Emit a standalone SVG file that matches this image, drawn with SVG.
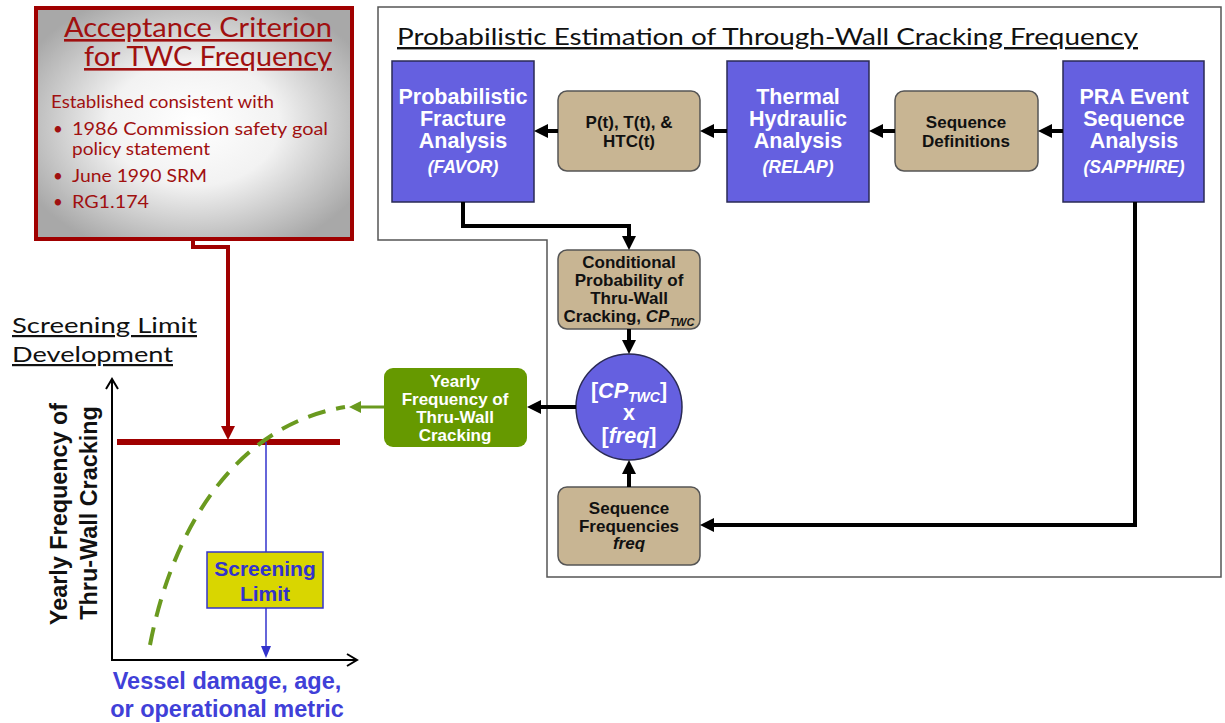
<svg xmlns="http://www.w3.org/2000/svg" width="1225" height="723" viewBox="0 0 1225 723">
<style>
.blue{fill:#6560E0;stroke:#2a2a55;stroke-width:1.5}
.tan{fill:#C8B593;stroke:#555;stroke-width:1.5}
.bt{font-family:"Liberation Sans",Arial,sans-serif;font-weight:bold;font-size:21.5px;fill:#fff;text-anchor:middle}
.bti{font-family:"Liberation Sans",Arial,sans-serif;font-weight:bold;font-style:italic;font-size:17.5px;fill:#fff;text-anchor:middle}
.tt{font-family:"Liberation Sans",Arial,sans-serif;font-weight:bold;font-size:17px;fill:#111;text-anchor:middle}
.gt{font-family:"Liberation Sans",Arial,sans-serif;font-weight:bold;font-size:17px;fill:#fff;text-anchor:middle}
.conn{fill:none;stroke:#000;stroke-width:4}
.hd{font-family:"Lato","Liberation Sans",sans-serif;text-decoration:underline}
.red{font-family:"Lato","Liberation Sans",sans-serif;fill:#a01010;font-size:17px}
.ax{font-family:"Liberation Sans",Arial,sans-serif;font-weight:bold;font-size:23.4px;fill:#111;text-anchor:middle}
.vx{font-family:"Liberation Sans",Arial,sans-serif;font-weight:bold;font-size:23.5px;fill:#4040d8;text-anchor:middle}
</style>
<defs>
<radialGradient id="gr" cx="50%" cy="50%" r="60%">
<stop offset="0" stop-color="#ffffff"/>
<stop offset="0.45" stop-color="#f2f2f2"/>
<stop offset="1" stop-color="#a8a8a8"/>
</radialGradient>
<marker id="ab" markerUnits="userSpaceOnUse" markerWidth="14" markerHeight="14" refX="2" refY="7" orient="auto"><path d="M0,0 L14,7 L0,14 z" fill="#000"/></marker>
<marker id="ag" markerUnits="userSpaceOnUse" markerWidth="12" markerHeight="12" refX="2" refY="6" orient="auto"><path d="M0,0 L12,6 L0,12 z" fill="#6a9a1f"/></marker>
<marker id="ar" markerUnits="userSpaceOnUse" markerWidth="14" markerHeight="14" refX="2" refY="7" orient="auto"><path d="M0,0 L14,7 L0,14 z" fill="#a00000"/></marker>
<marker id="abl" markerUnits="userSpaceOnUse" markerWidth="12" markerHeight="10" refX="2" refY="5" orient="auto"><path d="M0,0 L12,5 L0,10 z" fill="#3333cc"/></marker>
<marker id="ax" markerUnits="userSpaceOnUse" markerWidth="14" markerHeight="14" refX="11" refY="7" orient="auto"><path d="M1,1 L11,7 L1,13" fill="none" stroke="#000" stroke-width="2"/></marker>
</defs>

<!-- right region frame -->
<path d="M378,7 H1221 V577 H547 V240 H378 Z" fill="#fff" stroke="#555" stroke-width="1.5"/>
<text x="397" y="45" class="hd" font-size="24" fill="#111" textLength="741" lengthAdjust="spacingAndGlyphs">Probabilistic Estimation of Through-Wall Cracking Frequency</text>

<!-- acceptance box -->
<g id="acceptance">
<rect x="36" y="8" width="316" height="231" fill="url(#gr)" stroke="#a00000" stroke-width="4"/>
<text x="64" y="37" class="hd" font-size="26" fill="#a01010" textLength="268" lengthAdjust="spacingAndGlyphs">Acceptance Criterion</text>
<text x="84" y="66" class="hd" font-size="26" fill="#a01010" textLength="248" lengthAdjust="spacingAndGlyphs">for TWC Frequency</text>
<text x="51" y="108" class="red" textLength="223" lengthAdjust="spacingAndGlyphs">Established consistent with</text>
<text x="53" y="135" class="red">•</text><text x="72" y="135" class="red" textLength="256" lengthAdjust="spacingAndGlyphs">1986 Commission safety goal</text>
<text x="72" y="155" class="red" textLength="138" lengthAdjust="spacingAndGlyphs">policy statement</text>
<text x="53" y="182" class="red">•</text><text x="72" y="182" class="red" textLength="135" lengthAdjust="spacingAndGlyphs">June 1990 SRM</text>
<text x="53" y="208" class="red">•</text><text x="72" y="208" class="red" textLength="77" lengthAdjust="spacingAndGlyphs">RG1.174</text>
</g>

<g id="favor">
<rect x="392" y="61" width="142" height="141" class="blue"/>
<text x="463" y="104" class="bt">Probabilistic</text>
<text x="463" y="126" class="bt">Fracture</text>
<text x="463" y="148" class="bt">Analysis</text>
<text x="463" y="173" class="bti">(FAVOR)</text>
</g>
<g id="relap">
<rect x="727" y="61" width="142" height="141" class="blue"/>
<text x="798" y="104" class="bt">Thermal</text>
<text x="798" y="126" class="bt">Hydraulic</text>
<text x="798" y="148" class="bt">Analysis</text>
<text x="798" y="173" class="bti">(RELAP)</text>
</g>
<g id="sapphire">
<rect x="1063" y="61" width="141" height="141" class="blue"/>
<text x="1134" y="104" class="bt">PRA Event</text>
<text x="1134" y="126" class="bt">Sequence</text>
<text x="1134" y="148" class="bt">Analysis</text>
<text x="1134" y="173" class="bti">(SAPPHIRE)</text>
</g>
<g id="pth">
<rect x="558" y="91" width="142" height="80" rx="9" class="tan"/>
<text x="629" y="128" class="tt">P(t), T(t), &amp;</text>
<text x="629" y="147" class="tt">HTC(t)</text>
</g>
<g id="seqdef">
<rect x="895" y="91" width="143" height="80" rx="9" class="tan"/>
<text x="966" y="128" class="tt">Sequence</text>
<text x="966" y="147" class="tt">Definitions</text>
</g>
<g id="cp">
<rect x="558" y="250" width="142" height="79" rx="9" class="tan"/>
<text x="629" y="268" class="tt">Conditional</text>
<text x="629" y="286" class="tt">Probability of</text>
<text x="629" y="304" class="tt">Thru-Wall</text>
<text x="629" y="322" class="tt">Cracking, <tspan font-style="italic">CP</tspan><tspan font-style="italic" font-size="11" dy="4">TWC</tspan></text>
</g>
<g id="product">
<circle cx="629" cy="407" r="53" class="blue"/>
<text x="629" y="398" class="bt">[<tspan font-style="italic">CP</tspan><tspan font-style="italic" font-size="14" dy="4">TWC</tspan><tspan dy="-4">]</tspan></text>
<text x="629" y="420" class="bt">x</text>
<text x="629" y="443" class="bt">[<tspan font-style="italic">freq</tspan>]</text>
</g>
<g id="seqfreq">
<rect x="558" y="487" width="142" height="78" rx="9" class="tan"/>
<text x="629" y="514" class="tt">Sequence</text>
<text x="629" y="532" class="tt">Frequencies</text>
<text x="629" y="549" class="tt" font-style="italic">freq</text>
</g>
<g id="yearly">
<rect x="384" y="368" width="143" height="79" rx="9" fill="#669900"/>
<text x="455" y="387" class="gt">Yearly</text>
<text x="455" y="405" class="gt">Frequency of</text>
<text x="455" y="423" class="gt">Thru-Wall</text>
<text x="455" y="441" class="gt">Cracking</text>
</g>

<g id="connectors">
<path d="M558,131 H546" class="conn" marker-end="url(#ab)"/>
<path d="M727,131 H712" class="conn" marker-end="url(#ab)"/>
<path d="M895,131 H881" class="conn" marker-end="url(#ab)"/>
<path d="M1063,131 H1050" class="conn" marker-end="url(#ab)"/>
<path d="M463,202 V226 H629 V238" class="conn" marker-end="url(#ab)"/>
<path d="M629,329 V342" class="conn" marker-end="url(#ab)"/>
<path d="M576,407 H539" class="conn" marker-end="url(#ab)"/>
<path d="M629,487 V472" class="conn" marker-end="url(#ab)"/>
<path d="M1135,202 V525 H712" class="conn" marker-end="url(#ab)"/>
<path d="M384,407 H359" fill="none" stroke="#6a9a1f" stroke-width="3" marker-end="url(#ag)"/>
<path d="M193,240 V247 H228 V428" fill="none" stroke="#a00000" stroke-width="4" marker-end="url(#ar)"/>
</g>

<!-- chart -->
<g id="chart">
<text x="12" y="333" class="hd" font-size="22" fill="#111" textLength="185" lengthAdjust="spacingAndGlyphs">Screening Limit</text>
<text x="12" y="362" class="hd" font-size="22" fill="#111" textLength="161" lengthAdjust="spacingAndGlyphs">Development</text>
<path d="M112,660 V379" fill="none" stroke="#000" stroke-width="2" marker-end="url(#ax)"/>
<path d="M111,660 H357" fill="none" stroke="#000" stroke-width="2" marker-end="url(#ax)"/>
<text transform="translate(67,514) rotate(-90)" class="ax">Yearly Frequency of</text>
<text transform="translate(97,513) rotate(-90)" class="ax">Thru-Wall Cracking</text>
<path d="M117,442 H340" stroke="#a00000" stroke-width="6"/>
<path d="M150,645 C 172,530 235,425 345,407" fill="none" stroke="#6a9a1f" stroke-width="4" stroke-dasharray="18,11"/>
<path d="M266,442 V648" fill="none" stroke="#3333cc" stroke-width="1.5" marker-end="url(#abl)"/>
<rect x="207" y="552" width="116" height="56" fill="#d9d600" stroke="#3333cc" stroke-width="1.5"/>
<text x="265" y="576" font-family="Liberation Sans,Arial,sans-serif" font-weight="bold" font-size="21" fill="#3333cc" text-anchor="middle">Screening</text>
<text x="265" y="601" font-family="Liberation Sans,Arial,sans-serif" font-weight="bold" font-size="21" fill="#3333cc" text-anchor="middle">Limit</text>
<text x="227" y="689" class="vx">Vessel damage, age,</text>
<text x="227" y="717" class="vx">or operational metric</text>
</g>
</svg>
